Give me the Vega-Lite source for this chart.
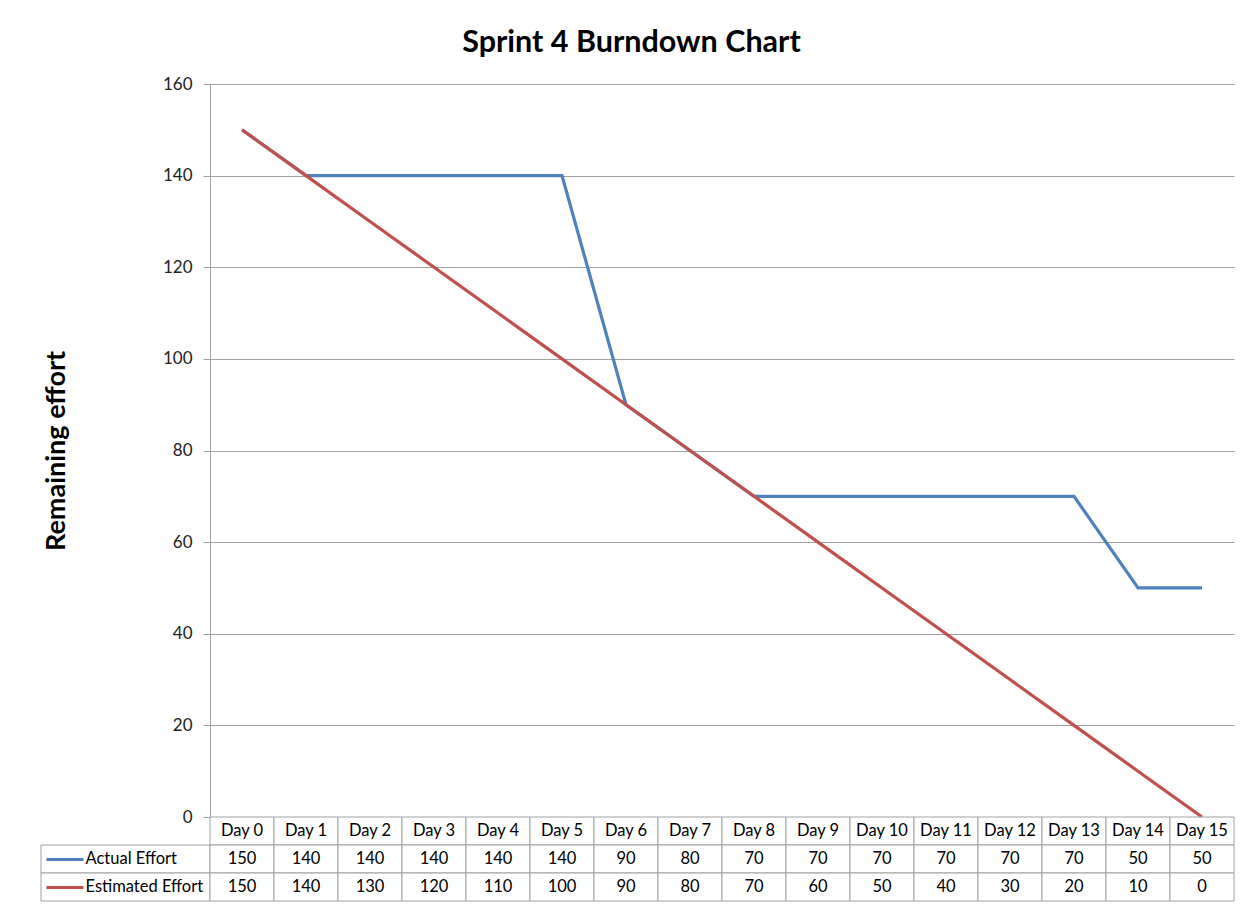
{
  "$schema": "https://vega.github.io/schema/vega-lite/v6.json",
  "background": "white",
  "padding": {"left": 40, "top": 27, "right": 14, "bottom": 4},
  "title": {"text": "Sprint 4 Burndown Chart", "fontSize": 30.5, "font": "Lato", "fontWeight": "bold", "color": "black", "anchor": "middle", "offset": 17, "dx": -6},
  "datasets": {
    "effort": [
      {"Day": "Day 0", "Actual Effort": 150, "Estimated Effort": 150},
      {"Day": "Day 1", "Actual Effort": 140, "Estimated Effort": 140},
      {"Day": "Day 2", "Actual Effort": 140, "Estimated Effort": 130},
      {"Day": "Day 3", "Actual Effort": 140, "Estimated Effort": 120},
      {"Day": "Day 4", "Actual Effort": 140, "Estimated Effort": 110},
      {"Day": "Day 5", "Actual Effort": 140, "Estimated Effort": 100},
      {"Day": "Day 6", "Actual Effort": 90, "Estimated Effort": 90},
      {"Day": "Day 7", "Actual Effort": 80, "Estimated Effort": 80},
      {"Day": "Day 8", "Actual Effort": 70, "Estimated Effort": 70},
      {"Day": "Day 9", "Actual Effort": 70, "Estimated Effort": 60},
      {"Day": "Day 10", "Actual Effort": 70, "Estimated Effort": 50},
      {"Day": "Day 11", "Actual Effort": 70, "Estimated Effort": 40},
      {"Day": "Day 12", "Actual Effort": 70, "Estimated Effort": 30},
      {"Day": "Day 13", "Actual Effort": 70, "Estimated Effort": 20},
      {"Day": "Day 14", "Actual Effort": 50, "Estimated Effort": 10},
      {"Day": "Day 15", "Actual Effort": 50, "Estimated Effort": 0}
    ],
    "series": [{"series": "Actual Effort"}, {"series": "Estimated Effort"}]
  },
  "columns": 2,
  "spacing": 0,
  "bounds": "flush",
  "concat": [
    {
      "width": 169,
      "height": 733,
      "data": {"name": "series"},
      "mark": {"type": "point", "opacity": 0},
      "encoding": {}
    },
    {
      "width": 1024,
      "height": 733,
      "data": {"name": "effort"},
      "transform": [{"fold": ["Actual Effort", "Estimated Effort"], "as": ["series", "effort"]}],
      "mark": {"type": "line", "strokeWidth": 3.2},
      "encoding": {
        "x": {"field": "Day", "type": "ordinal", "sort": null, "scale": {"type": "point", "padding": 0.5}, "axis": null},
        "y": {
          "field": "effort", "type": "quantitative",
          "scale": {"domain": [0, 160], "nice": false},
          "axis": {
            "values": [0, 20, 40, 60, 80, 100, 120, 140, 160],
            "title": "Remaining effort",
            "titleFontSize": 27, "titleFontWeight": "bold", "titleColor": "black", "titleFont": "Lato",
            "titlePadding": 92,
            "labelFontSize": 17, "labelColor": "#222222", "labelPadding": 11,
            "tickSize": 7, "tickColor": "#a0a0a0", "domainColor": "#a0a0a0",
            "grid": true, "gridColor": "#a0a0a0", "gridOpacity": 1
          }
        },
        "color": {"field": "series", "type": "nominal", "scale": {"domain": ["Actual Effort", "Estimated Effort"], "range": ["#4F81BD", "#C0504D"]}, "legend": null}
      }
    },
    {
      "width": 169,
      "height": 84,
      "data": {"name": "series"},
      "mark": {"type": "rect", "fill": "white", "stroke": "#a0a0a0", "strokeWidth": 1},
      "encoding": {
        "y": {
          "field": "series", "type": "nominal",
          "scale": {"domain": ["Day", "Actual Effort", "Estimated Effort"], "paddingInner": 0, "paddingOuter": 0},
          "axis": {
            "orient": "left", "offset": -42, "values": ["Actual Effort", "Estimated Effort"],
            "domain": false, "ticks": true, "tickSize": 37, "tickWidth": 3,
            "tickColor": {"condition": {"test": "datum.value === 'Actual Effort'", "value": "#4F81BD"}, "value": "#C0504D"},
            "labelAlign": "left", "labelPadding": -39, "labelFontSize": 16.5, "labelColor": "black",
            "title": null, "zindex": 1, "grid": false
          }
        }
      }
    },
    {
      "width": 1024,
      "height": 84,
      "data": {"name": "effort"},
      "transform": [{"fold": ["Day", "Actual Effort", "Estimated Effort"], "as": ["row", "value"]}],
      "encoding": {
        "x": {"field": "Day", "type": "ordinal", "sort": null, "scale": {"paddingInner": 0, "paddingOuter": 0}, "axis": null},
        "y": {"field": "row", "type": "nominal", "scale": {"domain": ["Day", "Actual Effort", "Estimated Effort"], "paddingInner": 0, "paddingOuter": 0}, "axis": null}
      },
      "layer": [
        {"mark": {"type": "rect", "fill": "white", "stroke": "#a0a0a0", "strokeWidth": 1}},
        {"mark": {"type": "text", "fontSize": 16.5, "color": "black"}, "encoding": {"text": {"field": "value"}}}
      ]
    }
  ],
  "config": {
    "font": "Lato",
    "view": {"stroke": null},
    "axis": {"labelFont": "Lato", "titleFont": "Lato"}
  }
}
